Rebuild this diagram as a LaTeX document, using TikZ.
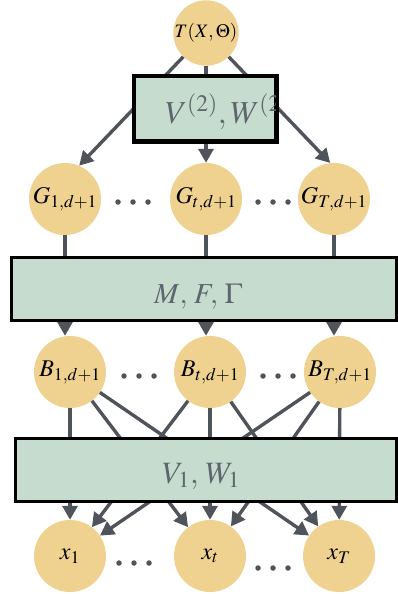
\documentclass[tikz,border=0pt]{standalone}
\usepackage{mathptmx}
\usetikzlibrary{arrows.meta}

\definecolor{nodefill}{HTML}{EFD190}
\definecolor{boxfill}{HTML}{C6DCCF}
\definecolor{edgecol}{HTML}{4F545B}
\definecolor{labelgray}{HTML}{5E656D}

\tikzset{
  var/.style={circle, fill=nodefill, draw=none, minimum size=72pt, inner sep=0pt,
              font=\fontsize{24}{24}\selectfont},
  layerbox/.style={rectangle, fill=boxfill, draw=black, line width=3pt, inner sep=0pt},
  boxlabel/.style={text=labelgray, inner sep=0pt, anchor=base west},
  flow/.style={draw=edgecol, line width=3.4pt, -{Triangle[length=14pt,width=15pt]}},
  dotmark/.style={circle, fill=edgecol, draw=none, minimum size=5.5pt, inner sep=0pt},
}

\begin{document}
\begin{tikzpicture}[x=1pt, y=-1pt]
\useasboundingbox (0,0) rectangle (398,594);

% variable nodes
\node[var, minimum size=64pt, font=\fontsize{19}{19}\selectfont] (T) at (206,33) {$T(X,\Theta)$};

\node[var] (G1) at (65,199)  {$G_{1,d+1}$};
\node[var] (Gt) at (206,199) {$G_{t,d+1}$};
\node[var] (GT) at (334,199) {$G_{T,d+1}$};

\node[var] (B1) at (70,372)  {$B_{1,d+1}$};
\node[var] (Bt) at (210,372) {$B_{t,d+1}$};
\node[var] (BT) at (340,372) {$B_{T,d+1}$};

\node[var] (x1) at (70,556)  {$x_1$};
\node[var] (xt) at (210,556) {$x_t$};
\node[var] (xT) at (339,556) {$x_T$};

% ellipsis dots between the columns
\foreach \cx/\cy/\nm in {133/202/ga, 273/202/gb, 139/376/ba, 278/376/bb, 134/563/xa, 273/568/xb}{
  \node[dotmark] (\nm1) at (\cx-15,\cy) {};
  \node[dotmark] (\nm2) at (\cx,\cy) {};
  \node[dotmark] (\nm3) at (\cx+15,\cy) {};
}

% connections (passing behind the parameter boxes)
\draw[flow] (T) -- (G1.67);
\draw[flow] (T) -- (Gt);
\draw[flow] (T) -- (GT.96);

\draw[flow] (G1) -- (G1 |- B1.north);
\draw[flow] (Gt) -- (Gt |- Bt.north);
\draw[flow] (GT) -- (GT |- BT.north);

\foreach \b in {B1,Bt,BT}
  \foreach \x in {x1,xt,xT}
    \draw[flow] (\b) -- (\x);

% parameter boxes
\node[layerbox, minimum width=141pt, minimum height=64pt] (top) at (205,108.5) {};
\node[layerbox, minimum width=385pt, minimum height=63pt] (mid) at (204,289) {};
\node[layerbox, minimum width=381pt, minimum height=63pt] (low) at (206,470) {};

\begin{scope}
  \clip (top.south west) rectangle (top.north east);
  \node[boxlabel, font=\fontsize{32}{32}\selectfont] (toplab) at (165,123) {$V^{(2)}, W^{(2)}$};
\end{scope}
\draw[line width=3pt] (top.south west) rectangle (top.north east);

\node[boxlabel, font=\fontsize{29}{29}\selectfont] (midlab) at (154,303) {$M,\, F,\, \Gamma$};
\node[boxlabel, font=\fontsize{31}{31}\selectfont] (lowlab) at (162,483) {$V_1,\, W_1$};
\end{tikzpicture}
\end{document}
